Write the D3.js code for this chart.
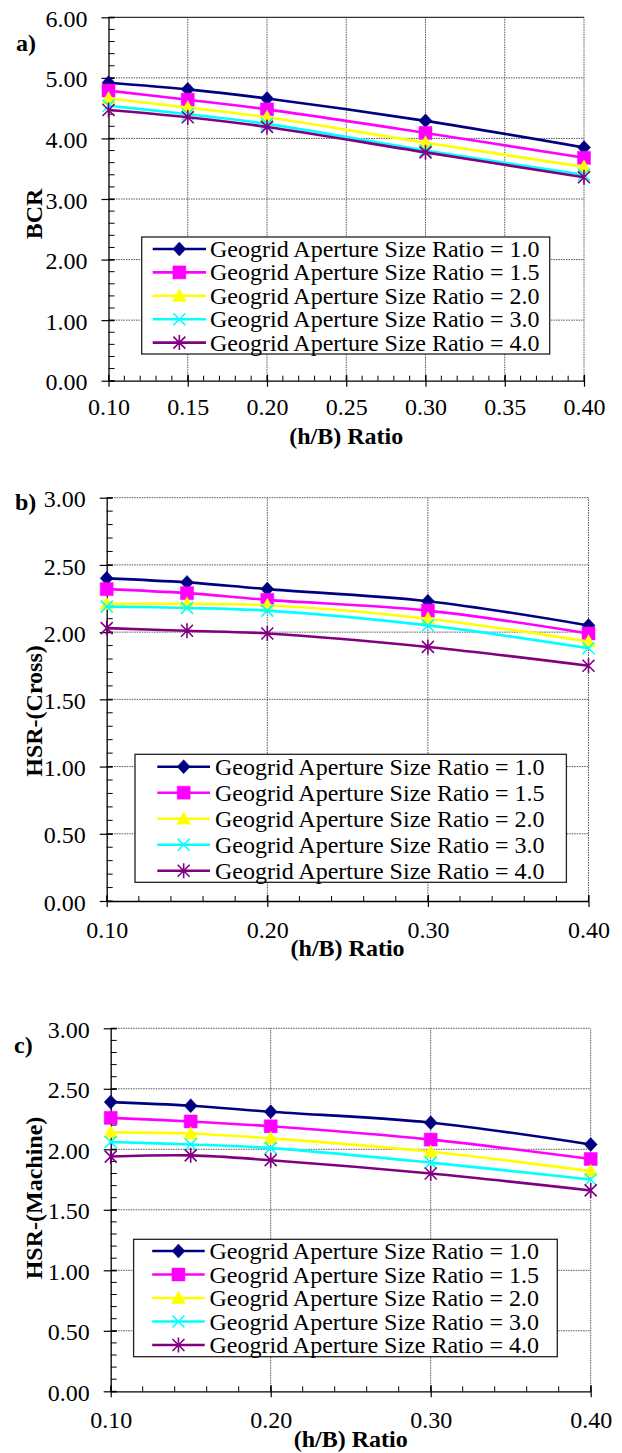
<!DOCTYPE html>
<html>
<head>
<meta charset="utf-8">
<script src="https://cdn.jsdelivr.net/npm/d3@7"></script>
<style>
  html, body { margin: 0; padding: 0; background: #fff; }
  svg text { font-family: "Liberation Serif", "Times New Roman", serif; fill: #000; }
</style>
</head>
<body>
<div id="chart"></div>
<script>
// h/B ratios on the x axis
const hbRatio = [0.10, 0.15, 0.20, 0.30, 0.40];

const apertureLabels = [
  "Geogrid Aperture Size Ratio = 1.0",
  "Geogrid Aperture Size Ratio = 1.5",
  "Geogrid Aperture Size Ratio = 2.0",
  "Geogrid Aperture Size Ratio = 3.0",
  "Geogrid Aperture Size Ratio = 4.0"
];

// a) BCR
const bcrValues = [
  [4.92, 4.81, 4.66, 4.29, 3.85],
  [4.79, 4.64, 4.48, 4.09, 3.68],
  [4.66, 4.51, 4.35, 3.93, 3.53],
  [4.54, 4.40, 4.24, 3.80, 3.40],
  [4.47, 4.35, 4.19, 3.77, 3.36]
];

// b) HSR cross direction
const hsrCrossValues = [
  [2.40, 2.37, 2.32, 2.23, 2.05],
  [2.32, 2.29, 2.24, 2.16, 1.99],
  [2.21, 2.21, 2.20, 2.10, 1.93],
  [2.19, 2.18, 2.16, 2.05, 1.88],
  [2.03, 2.01, 1.99, 1.89, 1.75]
];

// c) HSR machine direction
const hsrMachineValues = [
  [2.39, 2.36, 2.31, 2.22, 2.04],
  [2.26, 2.23, 2.19, 2.08, 1.92],
  [2.14, 2.13, 2.09, 1.98, 1.82],
  [2.06, 2.04, 2.01, 1.89, 1.75],
  [1.94, 1.95, 1.91, 1.80, 1.66]
];

const bcrTicks = [0, 1, 2, 3, 4, 5, 6];
const hsrTicks = [0, 0.5, 1, 1.5, 2, 2.5, 3];
const xTicksFine = [0.10, 0.15, 0.20, 0.25, 0.30, 0.35, 0.40];
const xTicksCoarse = [0.10, 0.20, 0.30, 0.40];

const colors = ["#000080", "#ff00ff", "#ffff00", "#00ffff", "#800080"];
const markers = ["diamond", "square", "triangle", "x", "star"];

const panels = [
  { tag: "a)", values: bcrValues, yTitle: "BCR", yTicks: bcrTicks, yMinor: 0.2, xTicks: xTicksFine, xMinor: 0.01,
    left: 108.5, right: 584, top: 17.3, bottom: 380.7, xLabDy: 26, xTitleY: 437, yTitleY: 214, tagY: 43, tagX: 16,
    solidTop: true,
    legend: { x: 141.7, y: 237, w: 408, h: 117, row0: 249, step: 23.4, l0: 152.7, l1: 206, tx: 210 } },
  { tag: "b)", values: hsrCrossValues, yTitle: "HSR-(Cross)", yTicks: hsrTicks, yMinor: 0.1, xTicks: xTicksCoarse, xMinor: 0.02,
    left: 106.7, right: 588.5, top: 497.7, bottom: 901, xLabDy: 29, xTitleY: 949, yTitleY: 711, tagY: 501.7, tagX: 15,
    legend: { x: 135, y: 754.3, w: 431.4, h: 128, row0: 766.7, step: 26, l0: 157.3, l1: 210, tx: 215 } },
  { tag: "c)", values: hsrMachineValues, yTitle: "HSR-(Machine)", yTicks: hsrTicks, yMinor: 0.1, xTicks: xTicksCoarse, xMinor: 0.02,
    left: 110.7, right: 590.7, top: 1028.3, bottom: 1391.3, xLabDy: 29, xTitleY: 1439.5, yTitleY: 1198, tagY: 1045, tagX: 14,
    legend: { x: 133.6, y: 1239.3, w: 423.7, h: 117.4, row0: 1251, step: 23.5, l0: 152.2, l1: 204.7, tx: 209.5 } }
];

const svg = d3.select("#chart").append("svg").attr("width", 622).attr("height", 1453);

function markerPath(type) {
  switch (type) {
    case "diamond": return "M0,-7L6.5,0L0,7L-6.5,0Z";
    case "square": return "M-6.5,-6.5H6.5V6.5H-6.5Z";
    case "triangle": return "M0,-7L7,5.5L-7,5.5Z";
    case "x": return "M-6,-6L6,6M-6,6L6,-6";
    default: return "M-6,-6L6,6M-6,6L6,-6M0,-7.5V7.5";
  }
}

function drawMarker(g, type, color, cx, cy) {
  const filled = type === "diamond" || type === "square" || type === "triangle";
  g.append("path")
    .attr("transform", `translate(${cx},${cy})`)
    .attr("d", markerPath(type))
    .attr("fill", filled ? color : "none")
    .attr("stroke", color)
    .attr("stroke-width", filled ? 0.5 : 1.6);
}

panels.forEach(p => {
  const yMax = p.yTicks[p.yTicks.length - 1];
  const x = d3.scaleLinear().domain([0.10, 0.40]).range([p.left, p.right]);
  const y = d3.scaleLinear().domain([0, yMax]).range([p.bottom, p.top]);
  const g = svg.append("g");

  // gridlines
  g.append("g").selectAll("line").data(p.xTicks.slice(1)).join("line")
    .attr("x1", d => x(d)).attr("x2", d => x(d)).attr("y1", p.bottom).attr("y2", p.top)
    .attr("stroke", "#555").attr("stroke-width", 1).attr("stroke-dasharray", "1.5,1");
  g.append("g").selectAll("line").data(p.yTicks.slice(1)).join("line")
    .attr("x1", p.left).attr("x2", p.right).attr("y1", d => y(d)).attr("y2", d => y(d))
    .attr("stroke", d => (p.solidTop && d === yMax) ? "#000" : "#555")
    .attr("stroke-width", 1)
    .attr("stroke-dasharray", d => (p.solidTop && d === yMax) ? null : "1.5,1");

  // minor ticks (inside)
  const xMinor = d3.range(0.10, 0.40 + 1e-9, p.xMinor);
  g.append("g").selectAll("line").data(xMinor).join("line")
    .attr("x1", d => x(d)).attr("x2", d => x(d)).attr("y1", p.bottom).attr("y2", p.bottom - 5)
    .attr("stroke", "#000").attr("stroke-width", 1);
  const yMinor = d3.range(0, yMax + 1e-9, p.yMinor);
  g.append("g").selectAll("line").data(yMinor).join("line")
    .attr("x1", p.left).attr("x2", p.left + 6).attr("y1", d => y(d)).attr("y2", d => y(d))
    .attr("stroke", "#000").attr("stroke-width", 1);

  // axes
  const xAxis = d3.axisBottom(x).tickValues(p.xTicks).tickFormat(d3.format(".2f"))
    .tickSizeInner(6).tickSizeOuter(0).tickPadding(p.xLabDy - 15);
  const gx = g.append("g").attr("transform", `translate(0,${p.bottom})`).call(xAxis);
  const yAxis = d3.axisLeft(y).tickValues(p.yTicks).tickFormat(d3.format(".2f"))
    .tickSizeInner(7).tickSizeOuter(0).tickPadding(14);
  const gy = g.append("g").attr("transform", `translate(${p.left},0)`).call(yAxis);
  [gx, gy].forEach(a => {
    a.select(".domain").attr("stroke", "#000").attr("stroke-width", 1.3);
    a.selectAll(".tick line").attr("stroke", "#000").attr("stroke-width", 1.2);
    a.selectAll("text").attr("font-family", "Liberation Serif, Times New Roman, serif")
      .attr("font-size", 24).attr("fill", "#000");
  });
  gx.selectAll(".tick line").attr("y1", -6);
  gy.selectAll(".tick line").attr("x2", -7).attr("x1", 6);
  gy.selectAll("text").attr("dy", "0.38em");

  // series
  const line = d3.line().x((d, i) => x(hbRatio[i])).y(d => y(d)).curve(d3.curveCatmullRom.alpha(0.5));
  p.values.forEach((vals, s) => {
    g.append("path").attr("d", line(vals)).attr("fill", "none")
      .attr("stroke", colors[s]).attr("stroke-width", 2.6);
    vals.forEach((v, i) => drawMarker(g, markers[s], colors[s], x(hbRatio[i]), y(v)));
  });

  // legend
  const L = p.legend;
  const lg = g.append("g");
  lg.append("rect").attr("x", L.x).attr("y", L.y).attr("width", L.w).attr("height", L.h)
    .attr("fill", "#fff").attr("stroke", "#222").attr("stroke-width", 1.3);
  apertureLabels.forEach((lab, s) => {
    const ry = L.row0 + s * L.step;
    lg.append("line").attr("x1", L.l0).attr("x2", L.l1).attr("y1", ry).attr("y2", ry)
      .attr("stroke", colors[s]).attr("stroke-width", 2.6);
    drawMarker(lg, markers[s], colors[s], (L.l0 + L.l1) / 2, ry);
    lg.append("text").attr("x", L.tx).attr("y", ry + 8).attr("font-size", 24).text(lab);
  });

  // titles
  g.append("text").attr("x", (p.left + p.right) / 2).attr("y", p.xTitleY + 7)
    .attr("text-anchor", "middle").attr("font-size", 24).attr("font-weight", "bold").text("(h/B) Ratio");
  g.append("text").attr("transform", `translate(${42},${p.yTitleY}) rotate(-90)`)
    .attr("text-anchor", "middle").attr("font-size", 24).attr("font-weight", "bold").text(p.yTitle);
  g.append("text").attr("x", p.tagX).attr("y", p.tagY + 8)
    .attr("font-size", 24).attr("font-weight", "bold").text(p.tag);
});
</script>
</body>
</html>
